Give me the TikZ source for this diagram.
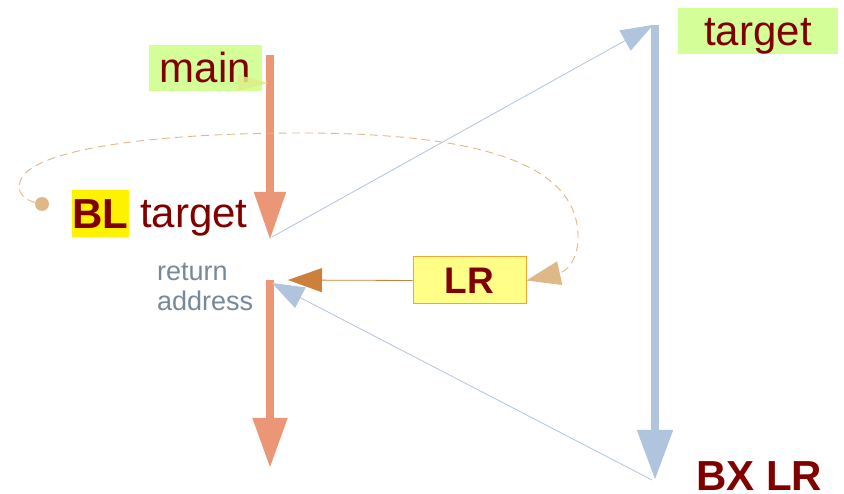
\documentclass[tikz,border=0pt]{standalone}
\usepackage{fontspec}
\setmainfont{Liberation Sans}
\usetikzlibrary{arrows.meta}
\definecolor{darkred}{HTML}{800000}
\definecolor{boxgreen}{HTML}{D4FF98}
\definecolor{lrfill}{HTML}{FFFF88}
\definecolor{lredge}{HTML}{F5A631}
\definecolor{salmonc}{HTML}{EA9677}
\definecolor{steelc}{HTML}{B0C4DE}
\definecolor{tanc}{HTML}{DEB887}
\definecolor{peruc}{HTML}{CD803C}
\definecolor{grayc}{HTML}{778899}
\definecolor{tipgreen}{HTML}{DDEE88}
\tikzset{
  big/.style={font=\fontsize{42}{50}\selectfont, text=darkred},
  bigbold/.style={font=\fontsize{42}{50}\selectfont\bfseries, text=darkred},
  greenbox/.style={big, fill=boxgreen, inner sep=0pt, text height=30pt, text depth=0pt},
  flow/.style={draw=salmonc, line width=8pt},
  branch/.style={draw=steelc, line width=8pt},
  thinlink/.style={draw=steelc, line width=0.8pt, -{Triangle[length=32pt,width=23pt]}},
  retlabel/.style={font=\fontsize{27}{30}\selectfont, text=grayc, inner sep=0pt, anchor=base west},
}
\begin{document}
\begin{tikzpicture}[x=1pt,y=-1pt]
\useasboundingbox (0,0) rectangle (844,494);

% labels and boxes
\node[greenbox, minimum width=113pt, minimum height=46pt] (main) at (205.5,68) {main};
\node[greenbox, minimum width=160pt, minimum height=46pt] (tgt) at (758,31) {target};
\node[bigbold, fill=yellow, inner sep=0pt, text height=30pt, text depth=0pt,
      minimum width=57pt, minimum height=47pt] (bl) at (100.5,213.5) {BL};
\node[big, inner sep=0pt, anchor=base west] (bltgt) at (140,228) {target};
\node[font=\fontsize{37}{44}\selectfont\bfseries, text=darkred, fill=lrfill, draw=lredge, line width=1pt,
      inner sep=0pt, text height=26pt, text depth=0pt, minimum width=113pt, minimum height=47pt] (lr) at (469.5,280.5) {LR};
\node[retlabel] (ret1) at (157,281) {return};
\node[retlabel] (ret2) at (157,311) {address};
\node[bigbold, inner sep=0pt, anchor=base west] (bxlr) at (696,490) {BX LR};

% end points of the flow arrows
\coordinate (m1s) at (270,55);
\coordinate (m1e) at (270,240);
\coordinate (m2s) at (270,280);
\coordinate (m2e) at (270,468);
\coordinate (t1s) at (655,25);
\coordinate (t1e) at (655,480);
\coordinate (mainout) at (225,83);
\coordinate (mainhit) at (268,83);
\coordinate (lrtip) at (288,280);
\coordinate (rettip) at (272,283);
\coordinate (callout) at (272,237);
\coordinate (tgttip) at (653,25);
\coordinate (tgtend) at (652,480);

% main flow
\draw[flow, -{Triangle[length=48pt,width=30pt]}] (m1s) -- (m1e);
\draw[flow, -{Triangle[length=50pt,width=33pt]}] (m2s) -- (m2e);
\draw[tipgreen, opacity=0.85, line width=0.6pt, -{Triangle[length=30pt,width=16pt]}] (mainout) -- (mainhit);

% target function
\draw[branch, -{Triangle[length=50pt,width=34pt]}] (t1s) -- (t1e);

% call and return
\draw[thinlink] (callout) -- (tgttip);
\draw[thinlink] (tgtend) -- (rettip);
\draw[draw=peruc, line width=0.8pt, -{Triangle[length=34pt,width=24pt]}] (lr.west) -- (lrtip);

% saved link register
\node[circle, fill=tanc, minimum size=14pt, inner sep=0pt] (dot) at (42,204) {};
\draw[tanc, line width=0.9pt, dash pattern=on 8pt off 5pt, -{Triangle[length=34pt,width=24pt,fill=tanc]}]
  (dot) .. controls (25,200) and (16,192) .. (20,182)
        .. controls (28,150) and (150,133) .. (300,133)
        .. controls (520,133) and (580,180) .. (578,240)
        .. controls (577,262) and (565,272) .. (lr.east);
\end{tikzpicture}
\end{document}
